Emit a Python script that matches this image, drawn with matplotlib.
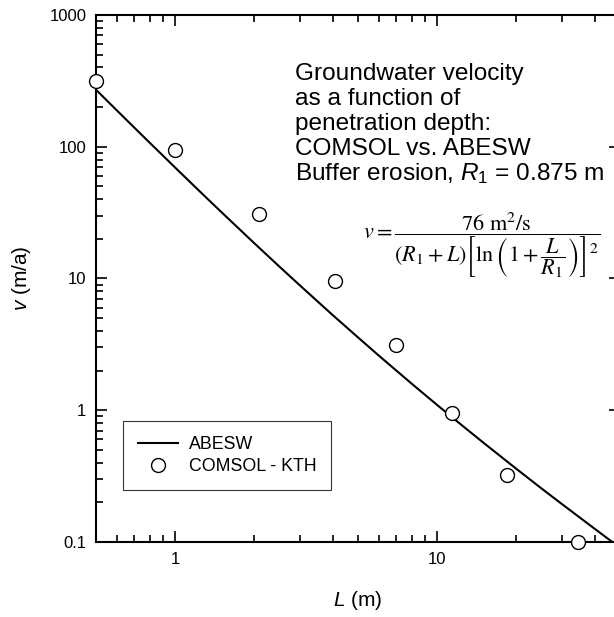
"""Groundwater velocity vs penetration depth: COMSOL vs. ABESW."""

import matplotlib
matplotlib.use('Agg')
import matplotlib.pyplot as plt
from matplotlib.ticker import LogLocator, NullFormatter, FixedLocator, FixedFormatter

plt.rcParams['font.family'] = ['Liberation Sans', 'DejaVu Sans']
plt.rcParams['mathtext.fontset'] = 'custom'
plt.rcParams['mathtext.rm'] = 'Liberation Sans'
plt.rcParams['mathtext.it'] = 'Liberation Sans:italic'

# ABESW curve
L_abesw = [0.5, 0.6, 0.7, 0.8, 1.0, 1.2, 1.5, 2.0, 2.5, 3.0, 4.0, 5.0, 6.0,
           7.0, 8.0, 10.0, 12.0, 15.0, 20.0, 25.0, 30.0, 40.0, 47.0]
v_abesw = [270.6, 189.0, 139.7, 107.6, 69.8, 49.1, 32.1, 18.68, 12.36, 8.86,
           5.28, 3.57, 2.60, 2.00, 1.595, 1.10, 0.8165, 0.570, 0.362, 0.256,
           0.194, 0.126, 0.0991]

# COMSOL - KTH points
L_comsol = [0.5, 1.0, 2.09, 4.08, 6.97, 11.4, 18.5, 34.5]
v_comsol = [316, 95, 31, 9.5, 3.15, 0.96, 0.32, 0.10]

x_ticks = [1, 10]
x_labels = ['1', '10']
y_ticks = [0.1, 1, 10, 100, 1000]
y_labels = ['0.1', '1', '10', '100', '1000']

fig = plt.figure(figsize=(6.14, 6.17), dpi=100)
ax = fig.add_axes([0.1564, 0.1216, 0.8534, 0.8541])

ax.plot(L_abesw, v_abesw, color='black', lw=1.5, label='ABESW', zorder=3)
ax.plot(L_comsol, v_comsol, 'o', ms=10, mfc='white', mec='black', mew=1.0,
        label='COMSOL - KTH', clip_on=False, zorder=5)

ax.set_xscale('log')
ax.set_yscale('log')
ax.set_xlim(0.5, 50)
ax.set_ylim(0.1, 1000)

ax.xaxis.set_major_locator(FixedLocator(x_ticks))
ax.xaxis.set_major_formatter(FixedFormatter(x_labels))
ax.yaxis.set_major_locator(FixedLocator(y_ticks))
ax.yaxis.set_major_formatter(FixedFormatter(y_labels))
ax.xaxis.set_minor_locator(LogLocator(base=10, subs=range(2, 10)))
ax.yaxis.set_minor_locator(LogLocator(base=10, subs=range(2, 10)))
ax.xaxis.set_minor_formatter(NullFormatter())
ax.yaxis.set_minor_formatter(NullFormatter())

ax.tick_params(which='both', direction='in', top=True, right=True,
               width=1.2, labelsize=12, pad=7)
ax.tick_params(which='major', length=8)
ax.tick_params(which='minor', length=5)
ax.tick_params(axis='y', which='minor', right=False)
for s in ax.spines.values():
    s.set_linewidth(1.5)

ax.set_xlabel('$L$ (m)', fontsize=15, labelpad=16)
ax.set_ylabel('$v$ (m/a)', fontsize=15, labelpad=12)

leg = ax.legend(loc='lower left', bbox_to_anchor=(0.0515, 0.0987),
                borderaxespad=0, fontsize=12.8,
                frameon=True, fancybox=False, edgecolor='black',
                handlelength=2.3, handletextpad=0.6, borderpad=0.82,
                labelspacing=0.3)
leg.get_frame().set_linewidth(0.8)

lines = ['Groundwater velocity', 'as a function of', 'penetration depth:',
         'COMSOL vs. ABESW', 'Buffer erosion, $\\mathit{R}_1$ = 0.875 m']
for k, t in enumerate(lines):
    fig.text(295 / 614, 1 - (74 + 25 * k) / 617, t, fontsize=17.6,
             ha='left', va='center')

fig.text(600 / 614, 1 - 246 / 617,
         r'$v = \dfrac{76\ \mathrm{m}^2/\mathrm{s}}'
         r'{\left(R_1 + L\right)\left[\ln\left(1 + \dfrac{L}{R_1}\right)\right]^2}$',
         fontsize=16, ha='right', va='center', math_fontfamily='stix')

fig.savefig('out.png', dpi=100)
